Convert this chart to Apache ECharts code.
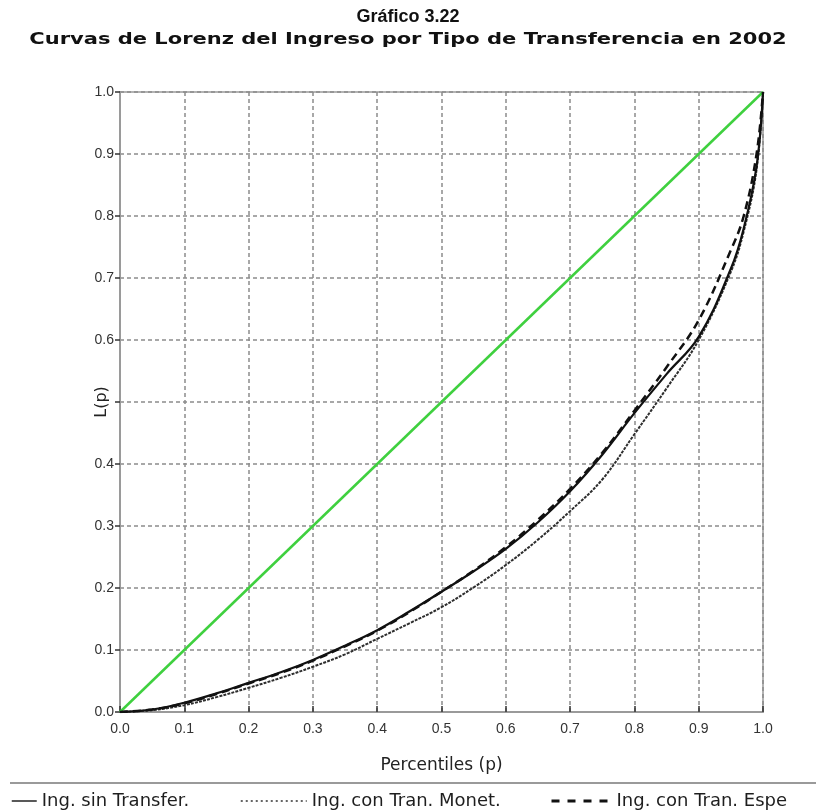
<!DOCTYPE html>
<html>
<head>
<meta charset="utf-8">
<script src="https://cdn.jsdelivr.net/npm/echarts@6/dist/echarts.min.js"></script>
<style>
  html, body { margin: 0; padding: 0; background: #ffffff; }
  #chart { width: 816px; height: 811px; }
</style>
</head>
<body>
<div id="chart"></div>
<script>
// Population share (p) at which each Lorenz curve is sampled
const percentiles = [0, 0.05, 0.10, 0.15, 0.20, 0.25, 0.30, 0.35, 0.40, 0.45, 0.50,
                     0.55, 0.60, 0.65, 0.70, 0.75, 0.80, 0.85, 0.90, 0.95, 0.97, 0.99, 1.00];

// Cumulative income share L(p) for each income concept
const sinTransfer = [0, 0.004, 0.015, 0.030, 0.047, 0.064, 0.084, 0.107, 0.132, 0.162, 0.194,
                     0.227, 0.263, 0.306, 0.356, 0.415, 0.482, 0.545, 0.605, 0.715, 0.780, 0.880, 1.00];
const conTranMonet = [0, 0.003, 0.011, 0.024, 0.039, 0.055, 0.073, 0.093, 0.118, 0.143, 0.169,
                      0.201, 0.237, 0.278, 0.324, 0.375, 0.448, 0.522, 0.600, 0.710, 0.775, 0.875, 1.00];
const conTranEspe = [0, 0.004, 0.014, 0.029, 0.046, 0.063, 0.083, 0.106, 0.131, 0.161, 0.194,
                     0.228, 0.266, 0.310, 0.360, 0.418, 0.486, 0.556, 0.632, 0.745, 0.800, 0.900, 1.00];

// Line of perfect equality
const igualdadP = [0, 1];
const igualdadL = [0, 1];

const seriesNames = ['Ing. sin Transfer.', 'Ing. con Tran. Monet.', 'Ing. con Tran. Espe'];
const xTickLabels = ['0.0', '0.1', '0.2', '0.3', '0.4', '0.5', '0.6', '0.7', '0.8', '0.9', '1.0'];
// the 0.5 slot on the vertical axis is taken by the axis title "L(p)"
const yTickLabels = ['0.0', '0.1', '0.2', '0.3', '0.4', '', '0.6', '0.7', '0.8', '0.9', '1.0'];

const pairs = (xs, ys) => xs.map((x, i) => [x, ys[i]]);
const fmtFrom = labels => v => labels[Math.round(v * 10)] || '';

const chart = echarts.init(document.getElementById('chart'), null, { renderer: 'canvas' });

const legendText = { fontFamily: 'DejaVu Sans', fontSize: 18, color: '#1e1e1e' };
const hiddenMarker = { color: 'rgba(0,0,0,0)', borderWidth: 0, opacity: 0 };

chart.setOption({
  backgroundColor: '#ffffff',
  animation: false,
  title: {
    text: 'Gráfico 3.22',
    left: 'center',
    top: 3,
    textStyle: { fontFamily: 'Liberation Sans', fontWeight: 'bold', fontSize: 18, color: '#111' }
  },
  graphic: [
    {
      type: 'text',
      x: 408, y: 40,
      scaleX: 1.40,
      style: {
        text: 'Curvas de Lorenz del Ingreso por Tipo de Transferencia en 2002',
        font: 'bold 15px "DejaVu Sans"',
        fill: '#111',
        align: 'center', textAlign: 'center',
        verticalAlign: 'middle', textVerticalAlign: 'middle'
      }
    },
    {
      type: 'line',
      shape: { x1: 10, y1: 783, x2: 816, y2: 783 },
      style: { stroke: '#9a9a9a', lineWidth: 2 }
    }
  ],
  grid: {
    left: 120, top: 92, width: 643, height: 620,
    show: true, borderColor: '#9a9a9a', borderWidth: 1.5, backgroundColor: 'transparent'
  },
  legend: [
    {
      left: 11, top: 792, padding: 0, itemWidth: 25, itemHeight: 14, itemGap: 0,
      selectedMode: false, data: [seriesNames[0]],
      lineStyle: { width: 1.5, type: 'solid', color: '#222' },
      itemStyle: hiddenMarker,
      textStyle: legendText
    },
    {
      left: 240, top: 792, padding: 0, itemWidth: 66, itemHeight: 14, itemGap: 0,
      selectedMode: false, data: [seriesNames[1]],
      lineStyle: { width: 1.5, type: [2, 3], color: '#333' },
      itemStyle: hiddenMarker,
      textStyle: legendText
    },
    {
      left: 550, top: 792, padding: 0, itemWidth: 60, itemHeight: 14, itemGap: 0,
      selectedMode: false, data: [seriesNames[2]],
      lineStyle: { width: 3, type: [8, 8], color: '#111' },
      itemStyle: hiddenMarker,
      textStyle: legendText
    }
  ],
  xAxis: {
    type: 'value', min: 0, max: 1, interval: 0.1,
    name: 'Percentiles (p)', nameLocation: 'middle', nameGap: 45,
    nameTextStyle: { fontFamily: 'DejaVu Sans', fontSize: 17, color: '#222' },
    axisLine: { show: true, lineStyle: { color: '#9a9a9a', width: 2 } },
    axisTick: { show: true, inside: true, length: 6, lineStyle: { color: '#333', width: 1.5 } },
    axisLabel: { formatter: fmtFrom(xTickLabels), margin: 10, fontFamily: 'Liberation Sans', fontSize: 14, color: '#333' },
    splitLine: { show: true, lineStyle: { color: '#8c8c8c', width: 1.5, type: [4, 3] } }
  },
  yAxis: {
    type: 'value', min: 0, max: 1, interval: 0.1,
    name: 'L(p)', nameLocation: 'middle', nameGap: 10, nameRotate: 90,
    nameMoveOverlap: false,
    nameTextStyle: { fontFamily: 'DejaVu Sans', fontSize: 16, color: '#222' },
    axisLine: { show: true, lineStyle: { color: '#9a9a9a', width: 2 } },
    axisTick: { show: true, inside: false, length: 5, lineStyle: { color: '#333', width: 1.5 } },
    axisLabel: { formatter: fmtFrom(yTickLabels), margin: 6, fontFamily: 'Liberation Sans', fontSize: 14, color: '#333' },
    splitLine: { show: true, lineStyle: { color: '#8c8c8c', width: 1.5, type: [4, 3] } }
  },
  series: [
    {
      name: 'Igualdad',
      type: 'line',
      data: pairs(igualdadP, igualdadL),
      symbol: 'none', silent: true,
      lineStyle: { color: '#3fd03f', width: 2.5 },
      z: 2
    },
    {
      name: seriesNames[1],
      type: 'line',
      data: pairs(percentiles, conTranMonet),
      symbol: 'none', smooth: 0.4,
      lineStyle: { color: '#2e2e2e', width: 2, type: [3, 1.2] },
      itemStyle: { color: '#2e2e2e' },
      z: 3
    },
    {
      name: seriesNames[2],
      type: 'line',
      data: pairs(percentiles, conTranEspe),
      symbol: 'none', smooth: 0.4,
      lineStyle: { color: '#111', width: 2.5, type: [8, 5] },
      itemStyle: { color: '#111' },
      z: 3
    },
    {
      name: seriesNames[0],
      type: 'line',
      data: pairs(percentiles, sinTransfer),
      symbol: 'none', smooth: 0.4,
      lineStyle: { color: '#111', width: 2.2 },
      itemStyle: { color: '#111' },
      z: 4
    }
  ]
});
</script>
</body>
</html>
